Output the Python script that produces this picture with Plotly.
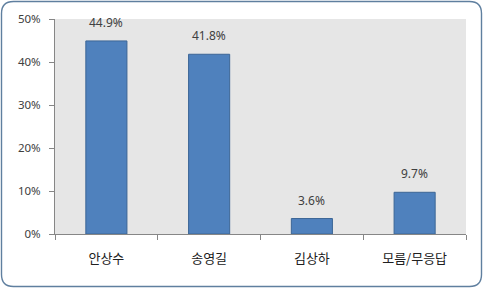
import plotly.graph_objects as go

categories = ["안상수", "송영길", "김상하", "모름/무응답"]
values = [44.9, 41.8, 3.6, 9.7]
value_labels = ["44.9%", "41.8%", "3.6%", "9.7%"]
y_ticks = [0, 10, 20, 30, 40, 50]
y_tick_labels = ["0%", "10%", "20%", "30%", "40%", "50%"]

W, H = 483, 291
L, R, T, B = 55, 17, 19, 57
pw, ph = W - L - R, H - T - B

def px(x):
    return (x - L) / pw

def py(y):
    return (H - B - y) / ph

# rounded border path in paper coords
x0, x1, y0, y1, r = 1.5, 481.5, 1.5, 286.5, 12
path = (
    f"M {px(x0 + r)},{py(y0)} L {px(x1 - r)},{py(y0)} "
    f"Q {px(x1)},{py(y0)} {px(x1)},{py(y0 + r)} "
    f"L {px(x1)},{py(y1 - r)} Q {px(x1)},{py(y1)} {px(x1 - r)},{py(y1)} "
    f"L {px(x0 + r)},{py(y1)} Q {px(x0)},{py(y1)} {px(x0)},{py(y1 - r)} "
    f"L {px(x0)},{py(y0 + r)} Q {px(x0)},{py(y0)} {px(x0 + r)},{py(y0)} Z"
)

fig = go.Figure()
fig.add_trace(go.Bar(
    x=categories, y=values,
    marker=dict(color="#4F81BD", line=dict(color="#3C6696", width=1)),
    width=0.4,
    hoverinfo="skip",
))

for c, v, t in zip(categories, values, value_labels):
    fig.add_annotation(x=c, y=v, text=t, showarrow=False, yanchor="bottom",
                       yshift=8, font=dict(size=12, color="#404040",
                                           family="Noto Sans, DejaVu Sans"))

fig.add_shape(type="path", path=path, xref="paper", yref="paper",
              line=dict(color="#5F7F9F", width=1.4), layer="above")

fig.update_layout(
    width=W, height=H,
    margin=dict(l=L, r=R, t=T, b=B),
    paper_bgcolor="white",
    plot_bgcolor="#E6E6E6",
    showlegend=False,
    font=dict(family="Noto Sans CJK KR", color="#404040"),
)
fig.update_xaxes(
    type="category", showgrid=False, showline=True, linecolor="#868686",
    ticks="outside", tickson="boundaries", ticklen=5, tickcolor="#868686",
    tickfont=dict(size=13, color="#202020", family="Noto Sans CJK KR"),
    ticklabelstandoff=12,
)
fig.update_yaxes(
    range=[0, 50], tickvals=y_ticks, ticktext=y_tick_labels,
    showgrid=False, showline=True, linecolor="#868686",
    ticks="outside", ticklen=5, tickcolor="#868686",
    tickfont=dict(size=11.5, color="#404040", family="Noto Sans, DejaVu Sans"),
    ticklabelstandoff=6,
    zeroline=False,
)

fig.write_html("out.html")
